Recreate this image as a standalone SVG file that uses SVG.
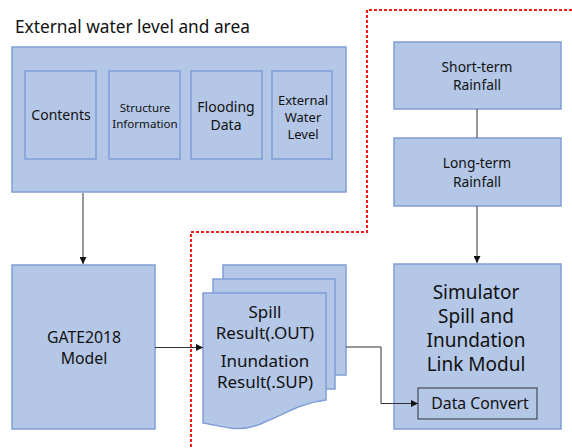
<svg xmlns="http://www.w3.org/2000/svg" width="572" height="448" viewBox="0 0 572 448">
<defs>
<style>
.box{fill:#b4c7e7;stroke:#7f9fd6;stroke-width:1.5}
.t{font-family:"Noto Sans","Open Sans",sans-serif;fill:#111;text-anchor:middle}
.c{fill:none;stroke:#333;stroke-width:1}
.red{fill:none;stroke:#ff1a1a;stroke-width:2;stroke-dasharray:3 2}
</style>
<marker id="ah" viewBox="0 0 10 10" refX="10" refY="5" markerWidth="7" markerHeight="7" markerUnits="userSpaceOnUse" orient="auto">
<path d="M0,0 L10,5 L0,10 z" fill="#111"/>
</marker>
</defs>
<rect width="572" height="448" fill="#fff"/>
<text x="15" y="33" font-family="'Noto Sans','Open Sans',sans-serif" font-size="17.3" fill="#111">External water level and area</text>

<g id="area">
<rect class="box" x="12" y="47" width="334" height="145"/>
</g>
<g id="contents">
<rect class="box" x="25" y="71" width="71" height="88"/>
<text class="t" x="61" y="120" font-size="14">Contents</text>
</g>
<g id="structure">
<rect class="box" x="109" y="71" width="71" height="88"/>
<text class="t" x="145" y="112" font-size="11.6" fill="#333">Structure</text>
<text class="t" x="145" y="128" font-size="11.6" fill="#333">Information</text>
</g>
<g id="flooding">
<rect class="box" x="191" y="71" width="71" height="88"/>
<text class="t" x="226" y="112" font-size="14">Flooding</text>
<text class="t" x="226" y="130" font-size="14">Data</text>
</g>
<g id="external">
<rect class="box" x="272" y="71" width="60" height="88"/>
<text class="t" x="303" y="105" font-size="13">External</text>
<text class="t" x="303" y="122" font-size="13">Water</text>
<text class="t" x="303" y="139" font-size="13">Level</text>
</g>

<g id="gate">
<rect class="box" x="12" y="265" width="143" height="164"/>
<text class="t" x="84" y="343" font-size="15.8">GATE2018</text>
<text class="t" x="84" y="364" font-size="15.8">Model</text>
</g>

<g id="results">
<rect class="box" x="223" y="265" width="123" height="110"/>
<rect class="box" x="213" y="279" width="122" height="110"/>
<path class="box" d="M203,293 L326,293 L326,400 C300,403 285,414 265,422 C255,427 245,430 230,428 C218,426 210,424 203,423 Z"/>
<text class="t" x="265" y="318" font-size="17">Spill</text>
<text class="t" x="265" y="339" font-size="17">Result(.OUT)</text>
<text class="t" x="265" y="367" font-size="17">Inundation</text>
<text class="t" x="265" y="388" font-size="17">Result(.SUP)</text>
</g>

<g id="short">
<rect class="box" x="394" y="42" width="167" height="67"/>
<text class="t" x="477" y="72" font-size="13.8">Short-term</text>
<text class="t" x="477" y="90" font-size="13.8">Rainfall</text>
</g>
<g id="long">
<rect class="box" x="394" y="138" width="167" height="68"/>
<text class="t" x="477" y="168" font-size="13.8">Long-term</text>
<text class="t" x="477" y="187" font-size="13.8">Rainfall</text>
</g>

<g id="simulator">
<rect class="box" x="394" y="264" width="167" height="165"/>
<text class="t" x="476" y="299" font-size="19">Simulator</text>
<text class="t" x="476" y="323" font-size="19">Spill and</text>
<text class="t" x="476" y="347" font-size="19">Inundation</text>
<text class="t" x="476" y="371" font-size="19">Link Modul</text>
</g>
<g id="dataconvert">
<rect x="418" y="388" width="119" height="31" fill="none" stroke="#333" stroke-width="1"/>
<text class="t" x="480" y="409" font-size="15.8">Data Convert</text>
</g>

<g id="connectors">
<line class="c" x1="83" y1="193" x2="83" y2="264" marker-end="url(#ah)"/>
<line class="c" x1="155" y1="347.5" x2="203" y2="347.5" marker-end="url(#ah)"/>
<polyline class="c" points="346,347 381,347 381,403.5 418,403.5" marker-end="url(#ah)"/>
<line class="c" x1="477" y1="109" x2="477" y2="138"/>
<line class="c" x1="477" y1="206" x2="477" y2="263" marker-end="url(#ah)"/>
<polyline class="red" points="572,10 367,10 367,232 191,232 191,448"/>
</g>
</svg>
